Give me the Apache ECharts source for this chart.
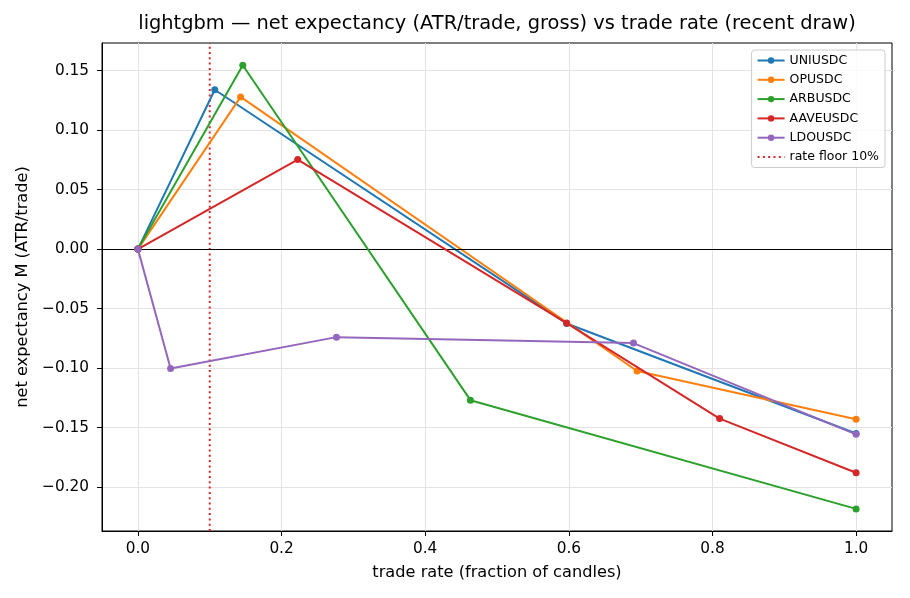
<!DOCTYPE html>
<html>
<head>
<meta charset="utf-8">
<script src="https://cdn.jsdelivr.net/npm/echarts@6/dist/echarts.min.js"></script>
<style>html,body{margin:0;padding:0;background:#fff}#c{width:910px;height:598px}</style>
</head>
<body>
<div id="c"></div>
<script>
const seriesNames = ['UNIUSDC', 'OPUSDC', 'ARBUSDC', 'AAVEUSDC', 'LDOUSDC'];
const uniX = [0, 0.107, 0.597, 1.0];
const uniY = [0, 0.134, -0.0625, -0.155];
const opX = [0, 0.143, 0.695, 1.0];
const opY = [0, 0.128, -0.1025, -0.143];
const arbX = [0, 0.146, 0.463, 1.0];
const arbY = [0, 0.1546, -0.127, -0.2184];
const aaveX = [0, 0.2225, 0.597, 0.810, 1.0];
const aaveY = [0, 0.0753, -0.0622, -0.1425, -0.188];
const ldoX = [0, 0.0455, 0.2765, 0.690, 1.0];
const ldoY = [0, -0.1003, -0.074, -0.079, -0.1557];
const rateFloor = 0.1;
const floorName = 'rate floor 10%';
const xTicks = [0, 0.2, 0.4, 0.6, 0.8, 1.0];
const yTicks = [-0.20, -0.15, -0.10, -0.05, 0, 0.05, 0.10, 0.15];
const xMin = -0.05, xMax = 1.05, yMin = -0.237, yMax = 0.1733;

const colors = ['#1f77b4', '#ff7f0e', '#2ca02c', '#d62728', '#9467bd'];
const xs = [uniX, opX, arbX, aaveX, ldoX];
const ys = [uniY, opY, arbY, aaveY, ldoY];
const font = 'DejaVu Sans';
const fmt = v => (v < 0 ? '\u2212' : '') + Math.abs(v).toFixed(2);
const fmtX = v => (v < 0 ? '\u2212' : '') + Math.abs(v).toFixed(1);

const series = seriesNames.map((n, i) => ({
  name: n, type: 'line', data: xs[i].map((x, j) => [x, ys[i][j]]),
  symbol: 'circle', symbolSize: 7, showSymbol: true,
  lineStyle: {color: colors[i], width: 2}, itemStyle: {color: colors[i]},
  emphasis: {disabled: true}, animation: false, z: 3 + i
}));
series[0].markLine = {
  silent: true, symbol: 'none', animation: false,
  lineStyle: {color: '#000', width: 1, type: 'solid'}, label: {show: false},
  data: [{yAxis: 0}]
};
series.push({
  name: floorName, type: 'line', data: [[rateFloor, yMin], [rateFloor, yMax]],
  symbol: 'none', showSymbol: false,
  lineStyle: {color: '#d62728', width: 2, type: [2, 3.3]}, itemStyle: {color: '#d62728'},
  emphasis: {disabled: true}, animation: false, z: 2
});

const legendData = seriesNames.map(n => ({name: n})).concat([
  {name: floorName, itemStyle: {opacity: 0}}
]);

const chart = echarts.init(document.getElementById('c'), null, {renderer: 'canvas'});
chart.setOption({
  backgroundColor: '#fff',
  animation: false,
  title: {
    text: 'lightgbm \u2014 net expectancy (ATR/trade, gross) vs trade rate (recent draw)',
    left: 497, top: 14, textAlign: 'center', padding: 0,
    textStyle: {fontFamily: font, fontSize: 19.4, fontWeight: 'normal', color: '#000'}
  },
  grid: {left: 102, right: 18, top: 43, bottom: 67, show: true, borderColor: '#000', borderWidth: 1, backgroundColor: 'transparent'},
  legend: {
    orient: 'vertical', right: 25, top: 50,
    data: legendData,
    itemWidth: 27, itemHeight: 8, itemGap: 6.3,
    textStyle: {fontFamily: font, fontSize: 12.5, color: '#000'},
    borderColor: '#cccccc', borderWidth: 1, borderRadius: 3,
    backgroundColor: 'rgba(255,255,255,0.8)', padding: [4, 6, 4, 5]
  },
  xAxis: {
    type: 'value', min: xMin, max: xMax,
    name: 'trade rate (fraction of candles)', nameLocation: 'middle', nameGap: 34,
    nameTextStyle: {fontFamily: font, fontSize: 16.2, color: '#000'},
    axisLine: {show: true, onZero: false, lineStyle: {color: '#000', width: 1}},
    axisTick: {show: true, customValues: xTicks, length: 5, lineStyle: {color: '#000'}},
    axisLabel: {customValues: xTicks, formatter: fmtX, fontFamily: font, fontSize: 15.3, color: '#000', margin: 11},
    splitLine: {show: true, lineStyle: {color: '#e3e3e3', width: 1}}
  },
  yAxis: {
    type: 'value', min: yMin, max: yMax,
    name: 'net expectancy M (ATR/trade)', nameLocation: 'middle', nameGap: 66, nameRotate: 90,
    nameTextStyle: {fontFamily: font, fontSize: 16.2, color: '#000'},
    axisLine: {show: true, onZero: false, lineStyle: {color: '#000', width: 1}},
    axisTick: {show: true, customValues: yTicks, length: 5, lineStyle: {color: '#000'}},
    axisLabel: {customValues: yTicks, formatter: fmt, fontFamily: font, fontSize: 15.3, color: '#000', margin: 13},
    splitLine: {show: true, lineStyle: {color: '#e3e3e3', width: 1}}
  },
  series: series
});
</script>
</body>
</html>
